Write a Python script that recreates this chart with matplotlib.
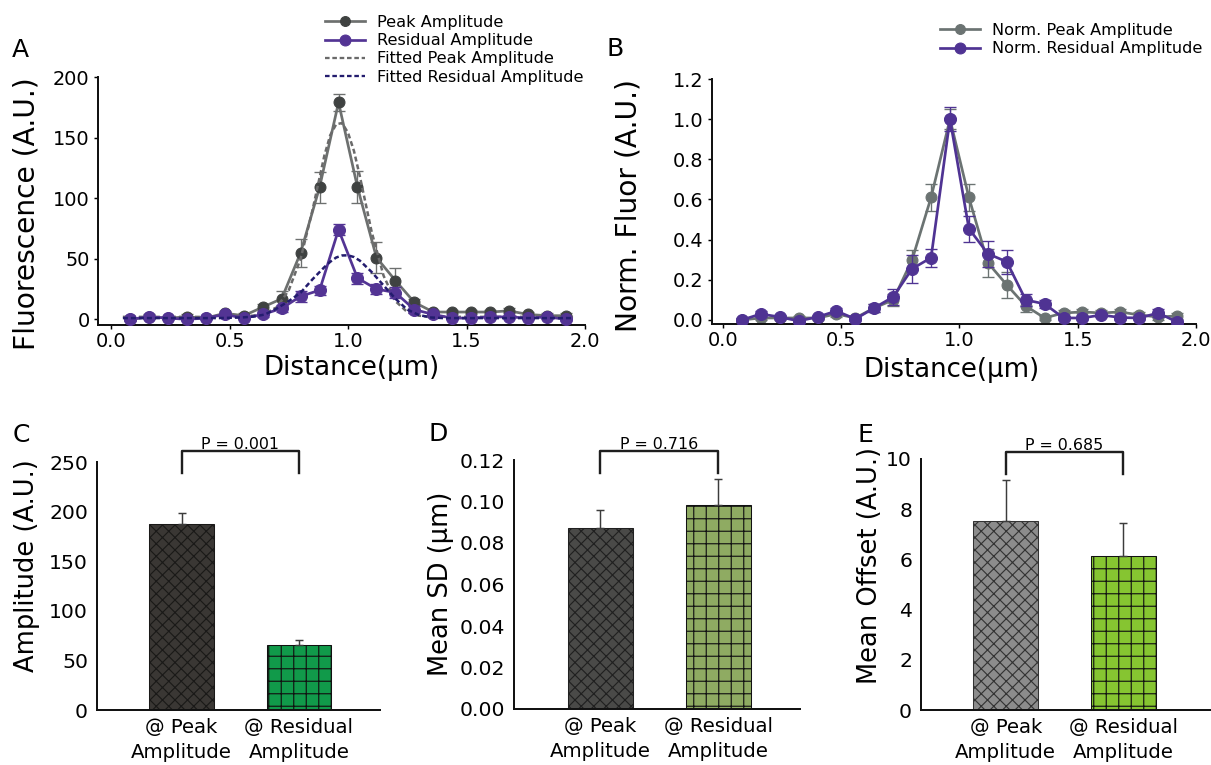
import matplotlib
matplotlib.use('Agg')
import matplotlib.pyplot as plt
from matplotlib.lines import Line2D

plt.rcParams['font.family'] = 'DejaVu Sans'
plt.rcParams['hatch.linewidth'] = 1.1

# ---- line profiles (panels A and B) ----
distance = [0.08, 0.16, 0.24, 0.32, 0.40, 0.48, 0.56, 0.64, 0.72, 0.80, 0.88, 0.96,
            1.04, 1.12, 1.20, 1.28, 1.36, 1.44, 1.52, 1.60, 1.68, 1.76, 1.84, 1.92]
peak_amp = [0, 2, 1, 2, 1, 5, 3, 10, 17, 55, 109, 179, 109, 51, 32, 14, 6, 6, 6, 6, 7, 4, 3, 3]
peak_err = [1, 2, 1, 2, 1, 2, 2, 3, 6, 11.5, 12.8, 7, 13, 12.8, 10.5, 3, 2, 2, 2, 2, 2, 2, 2, 2]
resid_amp = [0, 2, 1, 0, 1, 4, 1, 4, 9, 19, 24, 74, 34, 25, 22, 8, 4, 1, 1, 2, 2, 1, 2, 0]
resid_err = [1, 1, 1, 1, 1, 1, 1, 2, 3, 4.5, 3.8, 4.3, 4.5, 4, 4.8, 3, 2, 1, 1, 1, 1, 1, 1, 1]

fit_x = [0.05, 0.15, 0.25, 0.35, 0.45, 0.55, 0.60, 0.65, 0.70, 0.75, 0.80, 0.85, 0.90, 0.925,
         0.95, 0.975, 1.00, 1.025, 1.05, 1.10, 1.15, 1.20, 1.25, 1.30, 1.35, 1.40, 1.50, 1.60,
         1.70, 1.80, 1.90, 1.95]
fit_peak = [2, 2, 2, 2, 2, 2.5, 3, 5, 10, 24, 50, 90, 135, 152, 161, 162, 154, 139, 118, 72,
            36, 15, 6, 3, 2, 2, 2, 2, 2, 2, 2, 2]
fit_resid = [1, 1, 1, 1, 1, 1.5, 2.2, 4, 9, 15, 22, 33, 43, 47.5, 51, 52.7, 52.8, 51.4, 48.4,
             39, 28, 17, 8, 3.5, 1.5, 1, 1, 1, 1, 1, 1, 1]

norm_peak = [0.0, 0.01, 0.01, 0.01, 0.01, 0.03, 0.01, 0.06, 0.10, 0.30, 0.61, 1.00, 0.61,
             0.285, 0.175, 0.07, 0.01, 0.035, 0.04, 0.035, 0.04, 0.025, 0.015, 0.02]
norm_peak_err = [0.01, 0.01, 0.01, 0.01, 0.01, 0.015, 0.01, 0.02, 0.03, 0.05, 0.065, 0.05,
                 0.065, 0.07, 0.065, 0.03, 0.01, 0.015, 0.015, 0.015, 0.015, 0.015, 0.015, 0.015]
norm_resid = [0.0, 0.03, 0.015, -0.005, 0.015, 0.045, 0.005, 0.06, 0.115, 0.255, 0.31, 1.0,
              0.455, 0.33, 0.29, 0.10, 0.08, 0.01, 0.01, 0.025, 0.012, 0.01, 0.035, -0.01]
norm_resid_err = [0.01, 0.015, 0.01, 0.01, 0.01, 0.015, 0.01, 0.02, 0.04, 0.07, 0.045, 0.06,
                  0.065, 0.065, 0.06, 0.03, 0.02, 0.01, 0.01, 0.01, 0.01, 0.01, 0.02, 0.01]

# ---- bar summaries (panels C, D, E) ----
groups = ['@ Peak\nAmplitude', '@ Residual\nAmplitude']
amp_mean = [188, 65.2]
amp_sem = [10.7, 5.4]
sd_mean = [0.0874, 0.0985]
sd_sem = [0.0086, 0.0123]
offset_mean = [7.53, 6.14]
offset_sem = [1.63, 1.32]
p_values = ['P = 0.001', 'P = 0.716', 'P = 0.685']

W, H, DPI = 1211, 765, 75
GRAY_LINE = '#6d706f'
GRAY_MK = '#3f4241'
PURPLE = '#533494'


def rect(x0, y0, x1, y1):
    return [x0 / W, 1 - y1 / H, (x1 - x0) / W, (y1 - y0) / H]


def style_axes(ax):
    for s in ['top', 'right']:
        ax.spines[s].set_visible(False)
    for s in ['left', 'bottom']:
        ax.spines[s].set_linewidth(1.9)
        ax.spines[s].set_color('#111111')


fig = plt.figure(figsize=(W / DPI, H / DPI), dpi=DPI)

# ---------------- panel A ----------------
axA = fig.add_axes(rect(98, 77, 585, 325))
style_axes(axA)
axA.errorbar(distance, peak_amp, yerr=peak_err, color=GRAY_LINE, lw=2.6, marker='o', ms=10.5,
             mfc=GRAY_MK, mec=GRAY_MK, ecolor=GRAY_LINE, elinewidth=1.3, capsize=5.5,
             capthick=1.3, zorder=2)
axA.errorbar(distance, resid_amp, yerr=resid_err, color=PURPLE, lw=2.6, marker='o', ms=11.5,
             mfc=PURPLE, mec=PURPLE, ecolor=PURPLE, elinewidth=1.3, capsize=5.5,
             capthick=1.3, zorder=4)
axA.plot(fit_x, fit_peak, color='#6a6a6a', lw=2.4, ls=(0, (2, 1.2)), zorder=3)
axA.plot(fit_x, fit_resid, color='#231c6e', lw=2.4, ls=(0, (2, 1.2)), zorder=5)
axA.set_xlim(-0.055, 2.0)
axA.set_ylim(-4.7, 200)
axA.set_xticks([0.0, 0.5, 1.0, 1.5, 2.0])
axA.set_yticks([0, 50, 100, 150, 200])
axA.tick_params(axis='both', labelsize=18.5, length=4, width=1.4, direction='out')
axA.tick_params(axis='x', pad=3)
axA.tick_params(axis='y', pad=4)
axA.set_ylabel('Fluorescence (A.U.)', fontsize=27, va='center', ha='center')
axA.yaxis.set_label_coords(27 / W, 1 - 214 / H, transform=fig.transFigure)
axA.set_xlabel('Distance(µm)', fontsize=25, va='center', ha='center')
axA.xaxis.set_label_coords(352 / W, 1 - 368 / H, transform=fig.transFigure)

legA = [Line2D([], [], color=GRAY_LINE, lw=2.6, marker='o', ms=9.5, mfc=GRAY_MK, mec=GRAY_MK),
        Line2D([], [], color=PURPLE, lw=2.6, marker='o', ms=10.5, mfc=PURPLE, mec=PURPLE),
        Line2D([], [], color='#6a6a6a', lw=2.2, ls=(0, (2, 1.2))),
        Line2D([], [], color='#231c6e', lw=2.2, ls=(0, (2, 1.2)))]
axA.legend(legA, ['Peak Amplitude', 'Residual Amplitude', 'Fitted Peak Amplitude',
                  'Fitted Residual Amplitude'],
           loc='upper left', bbox_to_anchor=(325 / W, 1 - 15 / H), bbox_transform=fig.transFigure,
           frameon=False, fontsize=15.5, borderpad=0, borderaxespad=0, labelspacing=0.2,
           handlelength=2.5, handletextpad=0.7)

# ---------------- panel B ----------------
axB = fig.add_axes(rect(712, 79, 1196, 324))
style_axes(axB)
axB.errorbar(distance, norm_peak, yerr=norm_peak_err, color='#6b7372', lw=2.6, marker='o',
             ms=10.5, mfc='#6b7372', mec='#6b7372', ecolor='#6b7372', elinewidth=1.3,
             capsize=5.5, capthick=1.3, zorder=2)
axB.errorbar(distance, norm_resid, yerr=norm_resid_err, color='#4f3393', lw=2.6, marker='o',
             ms=11.5, mfc='#4f3393', mec='#4f3393', ecolor='#4f3393', elinewidth=1.3,
             capsize=5.5, capthick=1.3, zorder=4)
axB.set_xlim(-0.046, 2.0)
axB.set_ylim(-0.02, 1.2)
axB.set_xticks([0.0, 0.5, 1.0, 1.5, 2.0])
axB.set_yticks([0.0, 0.2, 0.4, 0.6, 0.8, 1.0, 1.2])
axB.tick_params(axis='both', labelsize=18.5, length=4, width=1.4, direction='out')
axB.tick_params(axis='x', pad=3)
axB.tick_params(axis='y', pad=4)
axB.set_ylabel('Norm. Fluor (A.U.)', fontsize=27, va='center', ha='center')
axB.yaxis.set_label_coords(628 / W, 1 - 205 / H, transform=fig.transFigure)
axB.set_xlabel('Distance(µm)', fontsize=25, va='center', ha='center')
axB.xaxis.set_label_coords(952 / W, 1 - 370 / H, transform=fig.transFigure)

legB = [Line2D([], [], color='#6b7372', lw=2.6, marker='o', ms=9.5, mfc='#6b7372', mec='#6b7372'),
        Line2D([], [], color='#4f3393', lw=2.6, marker='o', ms=10.5, mfc='#4f3393', mec='#4f3393')]
axB.legend(legB, ['Norm. Peak Amplitude', 'Norm. Residual Amplitude'],
           loc='upper left', bbox_to_anchor=(940 / W, 1 - 23 / H), bbox_transform=fig.transFigure,
           frameon=False, fontsize=15.5, borderpad=0, borderaxespad=0, labelspacing=0.2,
           handlelength=2.5, handletextpad=0.7)


# ---------------- bar panels ----------------
def bar_panel(box, means, sems, faces, hatch_edges, ylim, yticks, fmt, ylabel, label_xy,
              ptext, bracket_top, bracket_leg, xlim):
    ax = fig.add_axes(rect(*box))
    style_axes(ax)
    bars = ax.bar([0, 1], means, width=0.55, color=faces, edgecolor=hatch_edges, linewidth=1.0,
                  zorder=2)
    for b, h in zip(bars, ['xx', '+']):
        b.set_hatch(h)
    ax.errorbar([0, 1], means, yerr=[[0, 0], sems], fmt='none', ecolor='#3c3c3c',
                elinewidth=1.4, capsize=3.6, capthick=1.4, zorder=3)
    ax.set_xlim(*xlim)
    ax.set_ylim(*ylim)
    ax.set_yticks(yticks)
    ax.set_yticklabels([fmt.format(t) for t in yticks])
    ax.set_xticks([0, 1])
    ax.set_xticklabels(groups, linespacing=1.35)
    ax.tick_params(axis='y', labelsize=19.5, length=0, pad=8.6)
    ax.tick_params(axis='x', labelsize=19, length=0, pad=8)
    ax.set_ylabel(ylabel, fontsize=24.7, va='center', ha='center')
    ax.yaxis.set_label_coords(label_xy[0] / W, 1 - label_xy[1] / H, transform=fig.transFigure)
    ax.plot([0, 0, 1, 1], [bracket_leg, bracket_top, bracket_top, bracket_leg],
            color='#1e1e1e', lw=2.3, clip_on=False, zorder=4)
    ax.annotate(ptext, xy=(0.5, bracket_top), xytext=(0, 2), textcoords='offset points',
                ha='center', va='baseline', fontsize=15.3, annotation_clip=False)
    return ax


bar_panel((97, 462, 380, 710), amp_mean, amp_sem, ['#3a3734', '#119a4a'],
          ['#1a1918', '#111111'], (0, 250), [0, 50, 100, 150, 200, 250], '{:g}',
          'Amplitude (A.U.)', (27, 566), p_values[0], 261.4, 238.6, (-0.72, 1.69))
bar_panel((514, 460, 800, 709), sd_mean, sd_sem, ['#4a4a48', '#8fab62'],
          ['#202020', '#111111'], (0, 0.12), [0, 0.02, 0.04, 0.06, 0.08, 0.10, 0.12], '{:.2f}',
          'Mean SD (µm)', (441, 584), p_values[1], 0.1245, 0.1139, (-0.73, 1.69))
bar_panel((921, 459, 1211, 710), offset_mean, offset_sem, ['#8c8c8c', '#86c531'],
          ['#333333', '#111111'], (0, 10), [0, 2, 4, 6, 8, 10], '{:g}',
          'Mean Offset (A.U.)', (870, 566), p_values[2], 10.27, 9.4, (-0.72, 1.745))

# panel letters
for letter, (lx, ly) in zip('ABCDE', [(12, 57), (606, 56), (13, 442), (428, 441), (857, 442)]):
    fig.text(lx / W, 1 - ly / H, letter, fontsize=24, va='baseline', ha='left')

fig.savefig('out.png', dpi=DPI)
